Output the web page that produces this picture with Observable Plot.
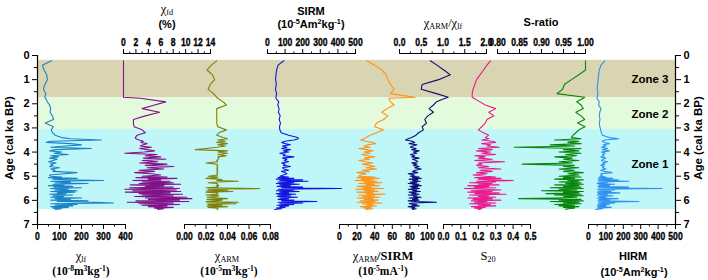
<!DOCTYPE html>
<html>
<head>
<meta charset="utf-8">
<script src="https://cdn.jsdelivr.net/npm/d3@7"></script>
<script src="https://cdn.jsdelivr.net/npm/@observablehq/plot@0.6"></script>
<style>
  html, body { margin: 0; padding: 0; background: #fff; }
  #chart { position: relative; width: 708px; height: 280px; overflow: hidden; }
  #chart svg { position: absolute; left: 0; top: 0; }
  .lab { position: absolute; transform: translate(-50%, -50%); white-space: nowrap; line-height: 1; color: #000; }
  .sans { font-family: "Liberation Sans", Arial, sans-serif; font-weight: bold; font-size: 11px; }
  .serif { font-family: "Liberation Serif", "Times New Roman", serif; font-size: 12.5px; }
  .serifb { font-family: "Liberation Serif", "Times New Roman", serif; font-weight: bold; font-size: 11.5px; }
  .lab sub, .lab sup { font-size: 0.66em; line-height: 0; position: relative; vertical-align: baseline; }
  .lab sub { top: 0.3em; }
  .lab sup { top: -0.5em; }
  .lab.rot { transform: translate(-50%, -50%) rotate(-90deg); font-size: 11.5px; }
</style>
</head>
<body>
<div id="chart"></div>
<script>
// Sample ages (cal ka BP) shared by all magnetic profiles
const ages = [
  0.22, 0.40, 0.60, 0.80, 1.00, 1.20, 1.40, 1.58, 1.73, 1.77, 1.92, 2.05, 2.20, 2.35, 2.50, 2.65, 2.80, 2.95, 3.08, 3.20, 3.30, 3.40,
  3.45, 3.50, 3.55, 3.60, 3.65, 3.70, 3.75, 3.80, 3.85, 3.90, 3.95, 4.00, 4.05, 4.10, 4.15, 4.20, 4.25, 4.30, 4.35, 4.40,
  4.45, 4.50, 4.55, 4.60, 4.65, 4.70, 4.75, 4.80, 4.85, 4.90, 4.95,
  5.00, 5.03, 5.06, 5.09, 5.12, 5.15, 5.18, 5.21, 5.24, 5.27, 5.30, 5.33, 5.36, 5.39, 5.42, 5.45, 5.48, 5.51, 5.54, 5.57,
  5.60, 5.63, 5.66, 5.69, 5.72, 5.75, 5.78, 5.81, 5.84, 5.87, 5.90, 5.93, 5.96, 5.99, 6.02, 6.05, 6.08, 6.11, 6.14, 6.17,
  6.20, 6.23, 6.26, 6.29, 6.32, 6.35, 6.38
];

// χlf (10^-8 m^3 kg^-1)
const chiLf = [
  64, 22, 30, 42, 45, 33, 27, 38, 33, 36, 45, 55, 60, 57, 68, 73, 35, 72, 62, 68, 80, 110,
  150, 290, 60, 40, 150, 200, 130, 60, 245, 80, 55, 110, 75, 140, 60, 95, 55, 90, 70, 50, 85, 60, 70, 55, 100, 60, 80, 70, 180, 125, 55,
  60, 110, 50, 180, 70, 130, 300, 60, 150, 80, 230, 70, 120, 50, 160, 75, 200, 60, 140, 80, 180, 60, 170, 90, 130,
  55, 160, 70, 120, 60, 200, 80, 150, 60, 230, 90, 270, 345, 60, 180, 80, 160, 60, 140, 70, 110, 80
];

// χfd (%)
const chiFd = [
  0, 0, 0, 0, 0, 0, 0, 0, 0, 2.7, 6.8, 5.0, 3.0, 5.8, 3.5, 1.6, 1.6, 1.7, 3.0, 3.5, 2.2, 1.9,
  2.0, 2.5, 3.2, 2.8, 3.8, 3.2, 2.7, 4.5, 2.6, 3.8, 5.0, 3.3, 0.2, 5.4, 3.5, 6.0, 3.2, 6.8, 3.0, 5.5, 2.6, 7.0, 3.5, 8.1, 3.8, 6.5, 2.5, 5.0, 1.8, 4.5, 6.0,
  3.0, 7.0, 2.0, 8.6, 4.0, 6.0, 1.5, 7.5, 3.0, 8.0, 2.5, 9.2, 1.1, 6.5, 3.5, 8.0, 1.0, 9.0, 0.2, 8.5, 1.5, 9.2, 0.3, 7.5, 2.5,
  9.5, 3.0, 8.0, 1.8, 10.2, 3.5, 11.0, 4.0, 9.0, 2.0, 10.5, 0.6, 8.0, 2.5, 9.0, 3.0, 7.0, 4.0, 8.0, 5.0, 6.5, 5.5
];

// χARM (10^-5 m^3 kg^-1)
const chiArm = [
  0.030, 0.025, 0.021, 0.026, 0.028, 0.024, 0.022, 0.027, 0.030, 0.031, 0.036, 0.039, 0.030, 0.030, 0.030, 0.030, 0.030, 0.031, 0.039, 0.032, 0.030, 0.036,
  0.040, 0.031, 0.038, 0.030, 0.040, 0.031, 0.038, 0.030, 0.020, 0.010, 0.040, 0.031, 0.040, 0.031, 0.039, 0.031, 0.032, 0.031, 0.030, 0.031,
  0.020, 0.030, 0.031, 0.030, 0.031, 0.030, 0.031, 0.030, 0.031, 0.030, 0.031,
  0.022, 0.031, 0.030, 0.020, 0.031, 0.035, 0.030, 0.050, 0.031, 0.022, 0.030, 0.031, 0.030, 0.032, 0.030, 0.031, 0.020, 0.070, 0.022, 0.040,
  0.021, 0.045, 0.020, 0.031, 0.030, 0.031, 0.020, 0.032, 0.030, 0.021, 0.031, 0.040, 0.021, 0.035, 0.030, 0.020, 0.050, 0.021, 0.048, 0.022,
  0.035, 0.021, 0.040, 0.022, 0.031, 0.030, 0.031
];

// SIRM (10^-5 Am^2 kg^-1)
const sirm = [
  93, 60, 52, 48, 46, 50, 45, 52, 48, 48, 64, 58, 66, 62, 72, 66, 74, 68, 70, 78, 120, 172,
  175, 150, 100, 80, 100, 130, 85, 110, 80, 130, 90, 120, 70, 100, 90, 150, 85, 110, 95, 120, 80, 100, 90, 130, 85, 95, 120, 80, 100, 110, 90,
  70, 120, 60, 150, 50, 200, 70, 230, 60, 150, 50, 180, 70, 130, 55, 200, 80, 420, 60, 150, 50, 180, 70, 120, 50,
  160, 60, 130, 55, 170, 70, 120, 60, 150, 80, 280, 60, 200, 70, 150, 55, 120, 70, 100, 50, 80, 40
];

// χARM/SIRM (10^-5 mA^-1)
const armSirm = [
  31, 40, 48, 53, 55, 58, 62, 58, 86, 56, 58, 62, 54, 48, 55, 50, 42, 40, 50, 42, 35, 30,
  28, 24, 30, 38, 41, 32, 28, 35, 22, 30, 38, 28, 35, 25, 32, 40, 28, 34, 22, 30, 38, 26, 34, 40, 30, 42, 26, 34, 20, 30, 24,
  22, 40, 20, 45, 25, 38, 18, 42, 28, 48, 22, 40, 30, 45, 20, 36, 26, 50, 18, 40, 28, 44, 20, 38, 30,
  52, 22, 40, 26, 46, 20, 38, 28, 44, 24, 40, 20, 48, 26, 38, 30, 42, 24, 36, 28, 38, 30
];

// χARM/χlf
const armLf = [
  0.71, 0.86, 1.02, 1.17, 0.90, 0.52, 0.50, 0.85, 1.12, 1.05, 0.85, 0.78, 0.68, 0.78, 0.65, 0.58, 0.62, 0.52, 0.55, 0.44, 0.38, 0.28,
  0.20, 0.14, 0.30, 0.35, 0.22, 0.40, 0.30, 0.25, 0.38, 0.28, 0.45, 0.32, 0.40, 0.25, 0.35, 0.28, 0.45, 0.30, 0.38, 0.42,
  0.28, 0.40, 0.32, 0.45, 0.35, 0.50, 0.36, 0.30, 0.42, 0.20, 0.35,
  0.25, 0.45, 0.30, 0.50, 0.22, 0.42, 0.30, 0.48, 0.25, 0.40, 0.20, 0.45, 0.30, 0.50, 0.24, 0.42, 0.28, 0.46, 0.20, 0.40,
  0.30, 0.48, 0.22, 0.38, 0.28, 0.45, 0.20, 0.40, 0.32, 0.50, 0.22, 0.42, 0.30, 0.45, 0.20, 0.38, 0.85, 0.30, 0.22, 0.40,
  0.28, 0.45, 0.20, 0.35, 0.28, 0.38, 0.30
];

// S20
const s20 = [
  0.27, 0.25, 0.23, 0.21, 0.19, 0.18, 0.17, 0.165, 0.165, 0.175, 0.21, 0.24, 0.30, 0.26, 0.29, 0.25, 0.24, 0.22, 0.20, 0.23, 0.26, 0.24,
  0.26, 0.22, 0.28, 0.30, 0.22, 0.27, 0.25, 0.32, 0.20, 0.28, 0.19, 0.27, 0.22, 0.30, 0.18, 0.24, 0.20, 0.28, 0.18, 0.35,
  0.20, 0.22, 0.19, 0.26, 0.20, 0.33, 0.21, 0.28, 0.19, 0.25, 0.17,
  0.24, 0.30, 0.18, 0.33, 0.20, 0.28, 0.40, 0.19, 0.30, 0.15, 0.28, 0.20, 0.32, 0.14, 0.26, 0.18, 0.30, 0.12, 0.24, 0.33,
  0.16, 0.28, 0.14, 0.32, 0.18, 0.36, 0.15, 0.26, 0.20, 0.30, 0.14, 0.28, 0.17, 0.33, 0.16, 0.25, 0.18, 0.30, 0.15, 0.27,
  0.20, 0.30, 0.16, 0.24, 0.18, 0.22, 0.20
];

// S-ratio
const sRatio = [
  1.0, 1.0, 1.0, 0.985, 0.968, 0.952, 0.948, 0.935, 0.998, 0.995, 0.980, 0.990, 0.995, 0.978, 0.990, 0.998, 0.982, 0.999, 0.985, 0.978, 0.972, 0.968,
  0.990, 0.930, 0.985, 0.960, 0.990, 0.920, 0.975, 0.838, 0.990, 0.950, 0.985, 0.940, 0.990, 0.955, 0.980, 0.930, 0.970, 0.950, 0.985, 0.940,
  0.970, 0.856, 0.975, 0.950, 0.985, 0.940, 0.975, 0.950, 0.995, 0.960, 0.985,
  0.940, 0.990, 0.950, 0.975, 0.930, 0.995, 0.960, 0.985, 0.940, 0.990, 0.955, 0.995, 0.930, 0.985, 0.950, 0.990, 0.920, 0.995, 0.940, 0.980,
  0.900, 0.995, 0.950, 0.985, 0.910, 0.990, 0.930, 0.995, 0.950, 0.980, 0.930, 0.848, 0.990, 0.940, 0.995, 0.920, 0.985, 0.950, 0.990, 0.930,
  0.975, 0.940, 0.985, 0.950, 0.975, 0.960, 0.955
];

// HIRM (10^-5 Am^2 kg^-1)
const hirm = [
  94, 72, 62, 58, 55, 52, 50, 54, 50, 48, 62, 58, 72, 65, 62, 66, 62, 65, 70, 74, 80, 120,
  174, 95, 80, 90, 120, 85, 100, 75, 110, 80, 120, 75, 95, 80, 90, 70, 100, 85, 75, 110, 80, 95, 70, 90, 80, 100, 70, 90, 136, 70, 80,
  65, 100, 60, 140, 55, 170, 60, 232, 55, 110, 50, 150, 60, 120, 55, 230, 60, 423, 50, 150, 60, 130, 50, 180, 55,
  110, 50, 140, 60, 100, 50, 170, 60, 120, 55, 289, 60, 150, 55, 120, 50, 100, 55, 130, 50, 80, 40
];

// Zonation
const zoneNames = ["Zone 3", "Zone 2", "Zone 1"];
const zoneTop = [0.2, 1.75, 3.07];
const zoneBottom = [1.75, 3.07, 6.38];
const ageTicks = [0, 1, 2, 3, 4, 5, 6, 7];

// ---- layout & styling ----
const W = 708, H = 280;
const M = {top: 53, bottom: 56, left: 37, right: 33};
const yDomain = [-0.083, 7];
const zoneFill = ["#d9d5b2", "#e4fadc", "#bff7f9"];
const zoneLabelAge = [0.97, 2.42, 4.49];
const font = "'Liberation Sans', Arial, sans-serif";
const tickSqueeze = 0.78; // condensed look for the crowded parameter scales

const rows = ages.map((age, i) => ({
  age, chiLf: chiLf[i], chiFd: chiFd[i], chiArm: chiArm[i], sirm: sirm[i],
  armSirm: armSirm[i], armLf: armLf[i], s20: s20[i], sRatio: sRatio[i], hirm: hirm[i]
}));

const f0 = d => String(d), f1 = d3.format(".1f"), f2 = d3.format(".2f");
const panels = [
  {key: "chiLf",  x0: 37,  x1: 125, side: "bottom", domain: [0, 400],   ticks: [0, 100, 200, 300, 400],             minor: 50,    fmt: f0, color: "#1c82c6"},
  {key: "chiFd",  x0: 123, x1: 210, side: "top",    domain: [0, 14],    ticks: [0, 2, 4, 6, 8, 10, 12, 14],         minor: 1,     fmt: f0, color: "#85118a"},
  {key: "chiArm", x0: 184, x1: 270, side: "bottom", domain: [0, 0.08],  ticks: [0, 0.02, 0.04, 0.06, 0.08],         minor: 0.01,  fmt: f2, color: "#808008"},
  {key: "sirm",   x0: 267, x1: 355, side: "top",    domain: [0, 500],   ticks: [0, 100, 200, 300, 400, 500],        minor: 50,    fmt: f0, color: "#1414e0"},
  {key: "armSirm",x0: 339, x1: 427, side: "bottom", domain: [0, 100],   ticks: [0, 20, 40, 60, 80, 100],            minor: 10,    fmt: f0, color: "#ff9418"},
  {key: "armLf",  x0: 399, x1: 486, side: "top",    domain: [0, 2],     ticks: [0, 0.5, 1, 1.5, 2],                 minor: 0.25,  fmt: f1, color: "#0c0c7a"},
  {key: "s20",    x0: 443, x1: 530, side: "bottom", domain: [0, 0.5],   ticks: [0, 0.1, 0.2, 0.3, 0.4, 0.5],        minor: 0.05,  fmt: f1, color: "#ec1a8c"},
  {key: "sRatio", x0: 497, x1: 585, side: "top",    domain: [0.8, 1.0], ticks: [0.8, 0.85, 0.9, 0.95, 1.0],         minor: 0.025, fmt: f2, color: "#0a850a"},
  {key: "hirm",   x0: 588, x1: 675, side: "bottom", domain: [0, 500],   ticks: [0, 100, 200, 300, 400, 500],        minor: 50,    fmt: f0, color: "#3090f0"}
];

const svgStyle = {background: "transparent", fontFamily: font, fontSize: "10.5px", fontWeight: "bold", overflow: "visible"};
const chart = document.getElementById("chart");

// Zones, age axes and zone names
const minorAges = [0.5, 1.5, 2.5, 3.5, 4.5, 5.5, 6.5];
const zones = zoneNames.map((name, i) => ({name, top: zoneTop[i], bottom: zoneBottom[i], fill: zoneFill[i], labelAge: zoneLabelAge[i]}));
chart.append(Plot.plot({
  width: W, height: H,
  marginLeft: M.left, marginRight: M.right, marginTop: M.top, marginBottom: M.bottom,
  style: svgStyle,
  x: {domain: [0, 1], axis: null},
  y: {domain: yDomain, reverse: true},
  color: {type: "identity"},
  marks: [
    Plot.rect(zones, {x1: () => 0, x2: () => 1, y1: "top", y2: "bottom", fill: "fill"}),
    Plot.ruleX([0, 1], {y1: () => 0, y2: () => 7, stroke: "#000", strokeWidth: 1.2}),
    Plot.axisY({anchor: "left", ticks: minorAges, tickSize: 3, tickFormat: () => "", label: null}),
    Plot.axisY({anchor: "left", ticks: ageTicks, tickSize: 5, tickPadding: 3, label: null, fontSize: 11}),
    Plot.axisY({anchor: "right", ticks: minorAges, tickSize: 3, tickFormat: () => "", label: null}),
    Plot.axisY({anchor: "right", ticks: ageTicks, tickSize: 5, tickPadding: 3, label: null, fontSize: 11}),
    Plot.text(zones, {y: "labelAge", text: "name", frameAnchor: "right", textAnchor: "end", dx: -7, fontSize: 11.5, fontWeight: "bold"})
  ]
}));

// One panel per magnetic parameter, each with its own horizontal scale
for (const p of panels) {
  const minor = d3.range(p.domain[0], p.domain[1] + p.minor / 2, p.minor)
    .filter(v => !p.ticks.some(t => Math.abs(t - v) < p.minor / 10));
  const edge = p.side === "top" ? yDomain[0] : yDomain[1];
  const svg = Plot.plot({
    width: W, height: H,
    marginLeft: p.x0, marginRight: W - p.x1, marginTop: M.top, marginBottom: M.bottom,
    style: svgStyle,
    x: {domain: p.domain},
    y: {domain: yDomain, reverse: true, axis: null},
    marks: [
      Plot.line(rows, {x: p.key, y: "age", stroke: p.color, strokeWidth: 1.1}),
      Plot.ruleY([edge], {x1: () => p.domain[0], x2: () => p.domain[1], stroke: "#000", strokeWidth: 1.2}),
      Plot.axisX({anchor: p.side, ticks: minor, tickSize: 2.5, tickFormat: () => "", label: null}),
      Plot.axisX({anchor: p.side, ticks: p.ticks, tickSize: 5, tickPadding: 3, tickFormat: p.fmt, label: null, fontSize: 11})
    ]
  });
  chart.append(svg);
  // condense the tick numbers horizontally so neighbouring values stay apart,
  // with a thin outline to keep the strokes heavy
  svg.querySelectorAll('g[aria-label="x-axis tick label"] text').forEach(t => {
    const len = t.getComputedTextLength();
    if (len > 0) {
      t.setAttribute("textLength", (len * tickSqueeze).toFixed(2));
      t.setAttribute("lengthAdjust", "spacingAndGlyphs");
      t.style.stroke = "#000";
      t.style.strokeWidth = "0.35px";
    }
  });
}

// Parameter names and units
const labels = [
  {html: 'χ<sub>lf</sub>', cls: "serif", x: 81, y: 256},
  {html: '(10<sup>-8</sup>m<sup>3</sup>kg<sup>-1</sup>)', cls: "serifb", x: 81, y: 272},
  {html: 'χ<sub>fd</sub>', cls: "serif", x: 167, y: 9},
  {html: '(%)', cls: "sans", x: 167, y: 24},
  {html: 'χ<sub>ARM</sub>', cls: "serif", x: 227, y: 256},
  {html: '(10<sup>-5</sup>m<sup>3</sup>kg<sup>-1</sup>)', cls: "serifb", x: 229, y: 272},
  {html: 'SIRM', cls: "sans", x: 311, y: 11},
  {html: '(10<sup>-5</sup>Am<sup>2</sup>kg<sup>-1</sup>)', cls: "sans", x: 311, y: 24},
  {html: 'χ<sub>ARM</sub><b>/SIRM</b>', cls: "serif", x: 383, y: 256},
  {html: '(10<sup>-5</sup>mA<sup>-1</sup>)', cls: "serifb", x: 383, y: 272},
  {html: 'χ<sub>ARM</sub>/χ<sub>lf</sub>', cls: "serif", x: 443, y: 23},
  {html: 'S<sub>20</sub>', cls: "serif", x: 488, y: 256},
  {html: 'S-ratio', cls: "sans", x: 541, y: 22},
  {html: 'HIRM', cls: "sans", x: 633, y: 256},
  {html: '(10<sup>-5</sup>Am<sup>2</sup>kg<sup>-1</sup>)', cls: "sans", x: 634, y: 272},
  {html: 'Age (cal ka BP)', cls: "sans rot", x: 10, y: 138},
  {html: 'Age (cal ka BP)', cls: "sans rot", x: 699, y: 138}
];
for (const l of labels) {
  const d = document.createElement("div");
  d.className = "lab " + l.cls;
  d.style.left = l.x + "px";
  d.style.top = l.y + "px";
  d.innerHTML = l.html;
  chart.append(d);
}
</script>
</body>
</html>
